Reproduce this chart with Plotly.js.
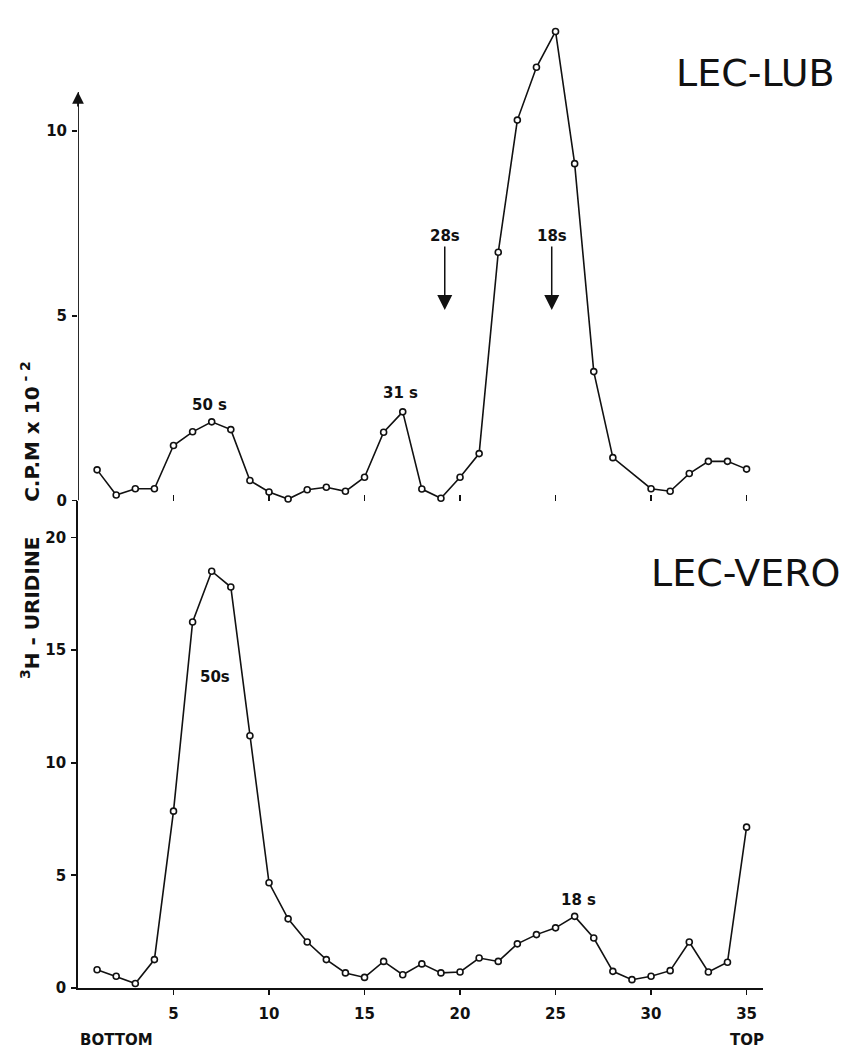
<!DOCTYPE html>
<html>
<head>
<meta charset="utf-8">
<script src="https://cdn.plot.ly/plotly-3.0.1.min.js"></script>
<style>html,body{margin:0;padding:0;background:#fff;}#chart{width:851px;height:1050px;}</style>
</head>
<body>
<div id="chart"></div>
<script>
// Fraction numbers (bottom -> top of gradient)
const lubFractions = [1,2,3,4,5,6,7,8,9,10,11,12,13,14,15,16,17,18,19,20,21,22,23,24,25,26,27,28,30,31,32,33,34,35];
// LEC-LUB: 3H-uridine CPM x 10^-2
const lubCPM = [0.83,0.15,0.32,0.32,1.49,1.86,2.13,1.92,0.54,0.23,0.04,0.29,0.36,0.25,0.63,1.85,2.40,0.31,0.06,0.63,1.27,6.72,10.30,11.73,12.70,9.12,3.49,1.16,0.32,0.25,0.73,1.06,1.06,0.85];

const veroFractions = [1,2,3,4,5,6,7,8,9,10,11,12,13,14,15,16,17,18,19,20,21,22,23,24,25,26,27,28,29,30,31,32,33,34,35];
// LEC-VERO: 3H-uridine CPM x 10^-2
const veroCPM = [0.81,0.52,0.2,1.26,7.85,16.25,18.5,17.8,11.2,4.67,3.07,2.04,1.26,0.67,0.47,1.18,0.59,1.07,0.67,0.71,1.33,1.18,1.96,2.37,2.67,3.18,2.22,0.74,0.37,0.52,0.77,2.04,0.71,1.14,7.14];

const xTickVals = [5,10,15,20,25,30,35];
const xTickText = ['5','10','15','20','25','30','35'];
const lubYTicks = [0,5,10];
const veroYTicks = [0,5,10,15,20];

const FONT = 'DejaVu Sans, Arial, sans-serif';
const INK = '#111';

const markerStyle = {symbol:'circle', size:6, color:'#fff', line:{color:INK, width:1.6}};

const traces = [
  {x: lubFractions, y: lubCPM, xaxis:'x', yaxis:'y', mode:'lines+markers', cliponaxis:false,
   line:{color:INK, width:1.6}, marker: markerStyle, showlegend:false, hoverinfo:'x+y'},
  {x: veroFractions, y: veroCPM, xaxis:'x2', yaxis:'y2', mode:'lines+markers', cliponaxis:false,
   line:{color:INK, width:1.6}, marker: markerStyle, showlegend:false, hoverinfo:'x+y'}
];

const XR = [0, 35.86];
const TOPR = [0, 13.01];
const AXTOP = 11.06;
const BOTR = [0, 21.64];
const SPLIT = 0.5036;
const tickFont = {family: FONT, size: 15, color: INK, weight: 'bold'};
const labFont = {family: FONT, size: 15, color: INK};

const layout = {
  width: 851, height: 1050,
  margin: {l: 78, r: 88, t: 20, b: 61.7},
  paper_bgcolor: '#fff', plot_bgcolor: 'rgba(0,0,0,0)',
  showlegend: false,
  font: {family: FONT, color: INK},
  xaxis: {domain:[0,1], anchor:'y', range: XR, showline:false, zeroline:false, showgrid:false,
          tickmode:'array', tickvals: xTickVals, ticks:'inside', ticklen:6, tickwidth:1.5, tickcolor:INK,
          showticklabels:false, fixedrange:true},
  yaxis: {domain:[SPLIT,1], anchor:'x', range: TOPR, showline:false, zeroline:false, showgrid:false,
          tickmode:'array', tickvals: lubYTicks,
          ticks:'outside', ticklen:5, tickwidth:1.8, tickcolor:INK, tickfont: tickFont, ticklabelstandoff:2, fixedrange:true},
  yaxis3: {overlaying:'y', anchor:'x', side:'left', range: TOPR, showline:false, zeroline:false, showgrid:false,
          tickmode:'array', tickvals: lubYTicks, ticks:'inside', ticklen:5, tickwidth:1.8, tickcolor:INK,
          showticklabels:false, fixedrange:true},
  xaxis2: {domain:[0,1], anchor:'y2', range: XR, showline:true, linecolor:INK, linewidth:1.8, zeroline:false, showgrid:false,
          tickmode:'array', tickvals: xTickVals, ticktext: xTickText, ticks:'outside', ticklen:5, tickwidth:1.8,
          tickcolor:INK, tickfont: tickFont, ticklabelstandoff:6, fixedrange:true},
  xaxis3: {overlaying:'x2', anchor:'y2', side:'bottom', range: XR, showline:false, zeroline:false, showgrid:false,
          tickmode:'array', tickvals: xTickVals, ticks:'inside', ticklen:5, tickwidth:1.8, tickcolor:INK,
          showticklabels:false, fixedrange:true},
  yaxis2: {domain:[0,SPLIT], anchor:'x2', range: BOTR, showline:true, linecolor:INK, linewidth:1.8,
          zeroline:false, showgrid:false, tickmode:'array', tickvals: veroYTicks,
          ticks:'outside', ticklen:5, tickwidth:1.8, tickcolor:INK, tickfont: tickFont, ticklabelstandoff:2, fixedrange:true},
  yaxis4: {overlaying:'y2', anchor:'x2', side:'left', range: BOTR, showline:false, zeroline:false, showgrid:false,
          tickmode:'array', tickvals: veroYTicks, ticks:'inside', ticklen:5, tickwidth:1.8, tickcolor:INK,
          showticklabels:false, fixedrange:true},
  shapes: [
    // upper panel y axis line (stops at the arrow)
    {type:'line', xref:'x', yref:'y', x0:0, x1:0, y0:0, y1:AXTOP, line:{color:INK, width:1.8}, layer:'above'}
  ],
  annotations: [
    // arrow at top of upper y axis
    {xref:'x', yref:'y', x:0, y:AXTOP, ax:0, ay:16, text:'', showarrow:true, standoff:0,
     arrowhead:2, arrowsize:1.3, arrowwidth:1.8, arrowcolor:INK},
    // sedimentation markers
    {xref:'x', yref:'y', x:19.2, y:5.16, ax:0, ay:-74, text:'<b>28s</b>', showarrow:true, arrowhead:2, arrowsize:2, arrowwidth:1.5, arrowcolor:INK,
     font: labFont},
    {xref:'x', yref:'y', x:24.8, y:5.16, ax:0, ay:-74, text:'<b>18s</b>', showarrow:true, arrowhead:2, arrowsize:2, arrowwidth:1.5, arrowcolor:INK,
     font: labFont},
    // peak labels
    {xref:'x', yref:'y', x:24.6, y:13.09, text:'<b>18 s</b>', showarrow:false, font: labFont},
    {xref:'x', yref:'y', x:6.86, y:2.59, text:'<b>50 s</b>', showarrow:false, font: labFont},
    {xref:'x', yref:'y', x:16.86, y:2.91, text:'<b>31 s</b>', showarrow:false, font: labFont},
    {xref:'x2', yref:'y2', x:7.17, y:13.82, text:'<b>50s</b>', showarrow:false, font: labFont},
    {xref:'x2', yref:'y2', x:26.2, y:3.92, text:'<b>18 s</b>', showarrow:false, font: labFont},
    // panel titles
    {xref:'paper', yref:'paper', x:1.108, y:0.9453, xanchor:'right', yanchor:'middle', text:'LEC-LUB', showarrow:false,
     font:{family:FONT, size:38, color:INK}},
    {xref:'paper', yref:'paper', x:1.117, y:0.4289, xanchor:'right', yanchor:'middle', text:'LEC-VERO', showarrow:false,
     font:{family:FONT, size:38, color:INK}},
    // gradient direction
    {xref:'paper', yref:'paper', x:0, y:-0.0534, xanchor:'left', yanchor:'middle', text:'<b>BOTTOM</b>', showarrow:false, font: labFont},
    {xref:'x2', yref:'paper', x:35, y:-0.0534, xanchor:'center', yanchor:'middle', text:'<b>TOP</b>', showarrow:false, font: labFont},
    // y axis title
    {xref:'paper', yref:'paper', x:-0.070, y:0.4836, xanchor:'center', yanchor:'middle', textangle:-90, showarrow:false,
     text:'<b><sup>3</sup>H - URIDINE&nbsp;&nbsp;&nbsp;&nbsp;&nbsp;C.P.M x 10<sup> - 2</sup></b>', font:{family:FONT, size:20, color:INK}}
  ]
};

Plotly.newPlot('chart', traces, layout, {staticPlot:true, displayModeBar:false});
</script>
</body>
</html>
